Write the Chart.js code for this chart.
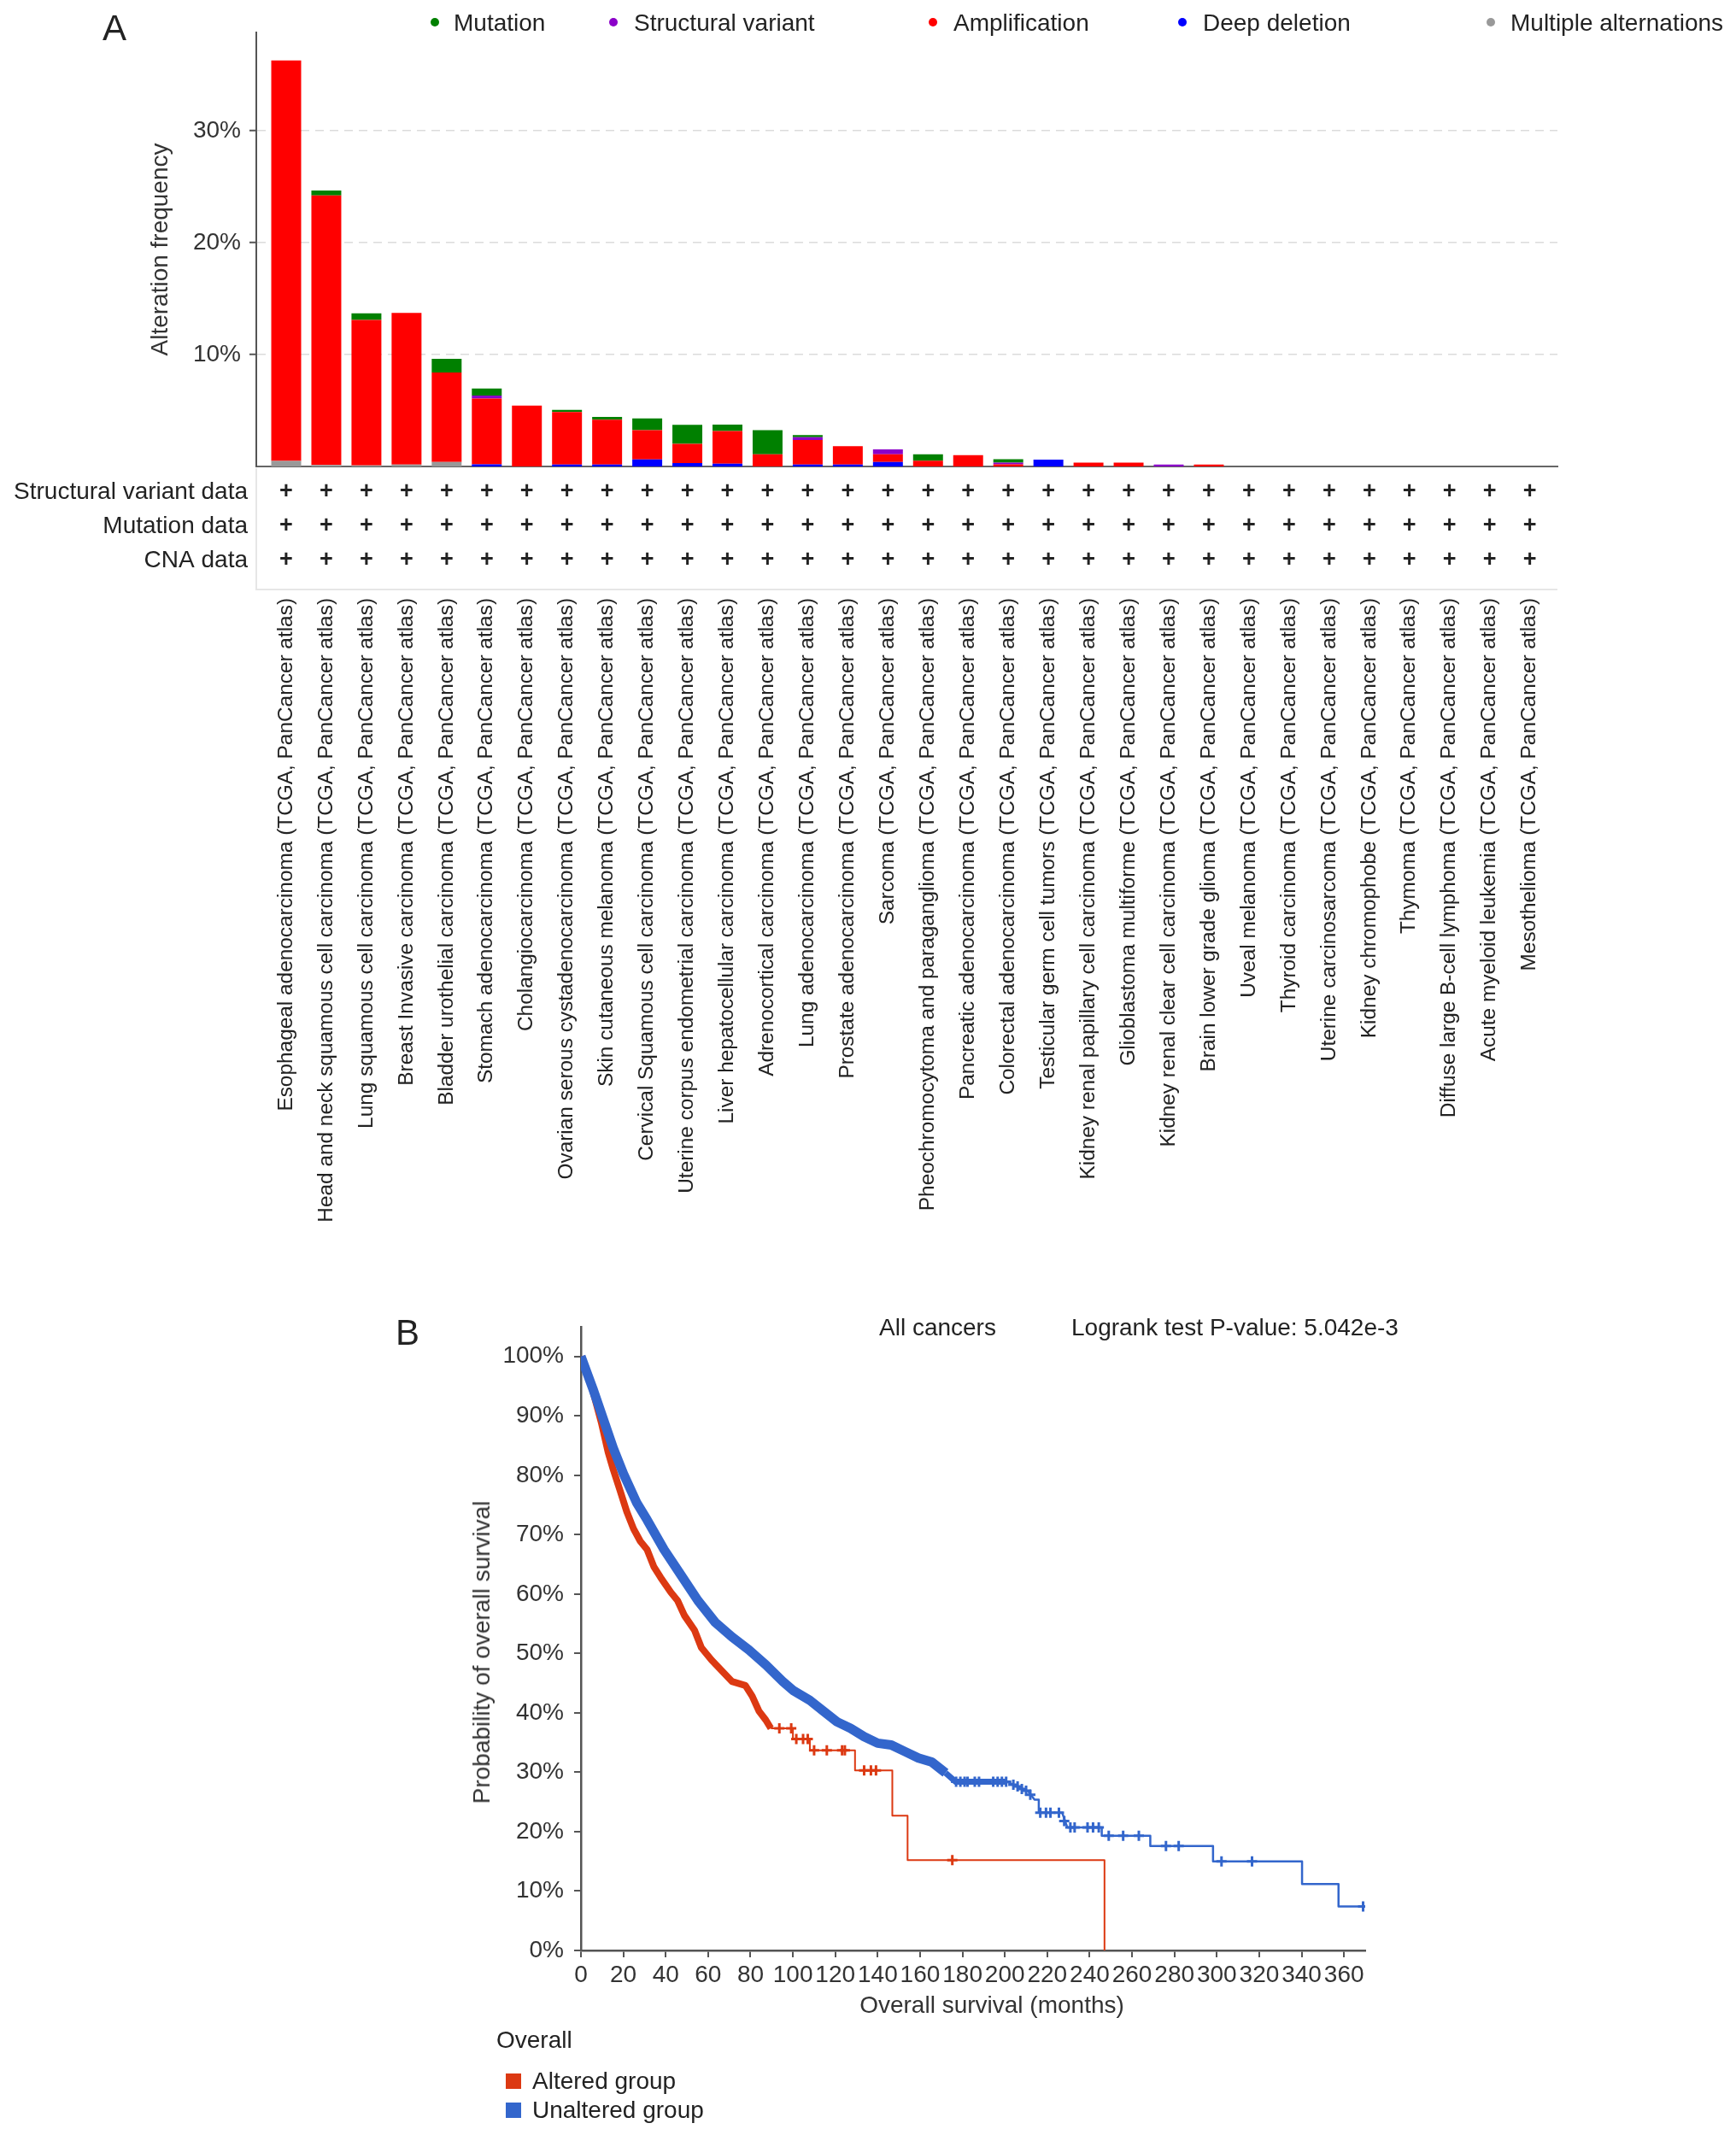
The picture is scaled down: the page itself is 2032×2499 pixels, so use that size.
<!DOCTYPE html>
<html>
<head>
<meta charset="utf-8">
<script src="https://cdn.jsdelivr.net/npm/chart.js@4.4.1/dist/chart.umd.min.js"></script>
<style>
html,body{margin:0;padding:0;background:#fff;}
#page{position:relative;width:2032px;height:2499px;overflow:hidden;font-family:'Liberation Sans',Arial,Helvetica,sans-serif;color:#222;}
canvas{position:absolute;left:0;}
.t{position:absolute;white-space:nowrap;line-height:1;}
.dot{position:absolute;border-radius:50%;}
.sq{position:absolute;}
</style>
</head>
<body>
<div id="page">
<canvas id="chartA" width="2032" height="1470" style="top:0px"></canvas>
<canvas id="chartB" width="2032" height="1019" style="top:1480px"></canvas>
</div>
<script>
// ---------------- Panel A data ----------------
const categories = [
  'Esophageal adenocarcinoma (TCGA, PanCancer atlas)',
  'Head and neck squamous cell carcinoma (TCGA, PanCancer atlas)',
  'Lung squamous cell carcinoma (TCGA, PanCancer atlas)',
  'Breast Invasive carcinoma (TCGA, PanCancer atlas)',
  'Bladder urothelial carcinoma (TCGA, PanCancer atlas)',
  'Stomach adenocarcinoma (TCGA, PanCancer atlas)',
  'Cholangiocarcinoma (TCGA, PanCancer atlas)',
  'Ovarian serous cystadenocarcinoma (TCGA, PanCancer atlas)',
  'Skin cutaneous melanoma (TCGA, PanCancer atlas)',
  'Cervical Squamous cell carcinoma (TCGA, PanCancer atlas)',
  'Uterine corpus endometrial carcinoma (TCGA, PanCancer atlas)',
  'Liver hepatocellular carcinoma (TCGA, PanCancer atlas)',
  'Adrenocortical carcinoma (TCGA, PanCancer atlas)',
  'Lung adenocarcinoma (TCGA, PanCancer atlas)',
  'Prostate adenocarcinoma (TCGA, PanCancer atlas)',
  'Sarcoma (TCGA, PanCancer atlas)',
  'Pheochromocytoma and paraganglioma (TCGA, PanCancer atlas)',
  'Pancreatic adenocarcinoma (TCGA, PanCancer atlas)',
  'Colorectal adenocarcinoma (TCGA, PanCancer atlas)',
  'Testicular germ cell tumors (TCGA, PanCancer atlas)',
  'Kidney renal papillary cell carcinoma (TCGA, PanCancer atlas)',
  'Glioblastoma multiforme (TCGA, PanCancer atlas)',
  'Kidney renal clear cell carcinoma (TCGA, PanCancer atlas)',
  'Brain lower grade glioma (TCGA, PanCancer atlas)',
  'Uveal melanoma (TCGA, PanCancer atlas)',
  'Thyroid carcinoma (TCGA, PanCancer atlas)',
  'Uterine carcinosarcoma (TCGA, PanCancer atlas)',
  'Kidney chromophobe (TCGA, PanCancer atlas)',
  'Thymoma (TCGA, PanCancer atlas)',
  'Diffuse large B-cell lymphoma (TCGA, PanCancer atlas)',
  'Acute myeloid leukemia (TCGA, PanCancer atlas)',
  'Mesothelioma (TCGA, PanCancer atlas)'
];
const mutation            = [0, 0.44, 0.6, 0, 1.22, 0.63, 0, 0.2, 0.25, 1.06, 1.7, 0.58, 2.15, 0.2, 0, 0, 0.58, 0, 0.3, 0, 0, 0, 0, 0, 0, 0, 0, 0, 0, 0, 0, 0];
const structuralVariant   = [0, 0, 0, 0, 0, 0.25, 0, 0, 0, 0, 0, 0, 0, 0.24, 0, 0.44, 0, 0, 0.15, 0, 0, 0, 0.17, 0, 0, 0, 0, 0, 0, 0, 0, 0];
const amplification       = [35.8, 24.1, 13.0, 13.55, 8.0, 5.88, 5.44, 4.68, 4.0, 2.61, 1.72, 2.93, 1.09, 2.2, 1.64, 0.68, 0.51, 1.02, 0.2, 0, 0.34, 0.34, 0, 0.17, 0, 0, 0, 0, 0, 0, 0, 0];
const deepDeletion        = [0, 0, 0, 0, 0, 0.2, 0, 0.18, 0.18, 0.63, 0.3, 0.24, 0, 0.17, 0.17, 0.41, 0, 0, 0, 0.61, 0, 0, 0, 0, 0, 0, 0, 0, 0, 0, 0, 0];
const multipleAlterations = [0.5, 0.13, 0.1, 0.18, 0.4, 0, 0, 0, 0, 0, 0, 0, 0, 0, 0, 0, 0, 0, 0, 0, 0, 0, 0, 0, 0, 0, 0, 0, 0, 0, 0, 0];
const freqTicks = [10, 20, 30];
const profileRows = ['Structural variant data', 'Mutation data', 'CNA data'];
const svProfiled  = [1,1,1,1,1,1,1,1,1,1,1,1,1,1,1,1,1,1,1,1,1,1,1,1,1,1,1,1,1,1,1,1];
const mutProfiled = [1,1,1,1,1,1,1,1,1,1,1,1,1,1,1,1,1,1,1,1,1,1,1,1,1,1,1,1,1,1,1,1];
const cnaProfiled = [1,1,1,1,1,1,1,1,1,1,1,1,1,1,1,1,1,1,1,1,1,1,1,1,1,1,1,1,1,1,1,1];
const legendNames = ['Mutation', 'Structural variant', 'Amplification', 'Deep deletion', 'Multiple alternations'];

// ---------------- Panel B data ----------------
const unalteredMonths   = [0, 5.6, 10.4, 15.2, 20, 26.4, 31.2, 39.2, 47.2, 55.2, 63.2, 71.2, 79.2, 87.2, 95.2, 100, 108, 114.4, 120.8, 127.2, 133.6, 140, 146.4, 152.8, 159.2, 165.6, 172, 176.8, 201, 207, 211, 214, 216, 216, 227, 229.5, 245.7, 245.7, 268.6, 268.6, 298.2, 298.2, 340.2, 340.2, 357.4, 357.4, 369];
const unalteredSurvival = [100, 94.6, 89.6, 84.6, 80.3, 75.3, 72.5, 67.5, 63.2, 58.9, 55.3, 52.8, 50.6, 48.1, 45.3, 43.8, 42.1, 40.3, 38.5, 37.4, 36.0, 34.9, 34.6, 33.5, 32.4, 31.7, 29.9, 28.4, 28.4, 27.4, 26.8, 25.4, 25.4, 23.2, 23.2, 20.7, 20.7, 19.3, 19.3, 17.6, 17.6, 15.0, 15.0, 11.2, 11.2, 7.4, 7.4];
const alteredMonths     = [0, 5, 9.6, 12.8, 15.2, 18.4, 21.6, 24.8, 28, 31.2, 34.4, 37.6, 42.4, 45.6, 48.8, 53.6, 56.8, 61.6, 66.4, 71.2, 77.6, 80.8, 84, 87.2, 89.6, 100, 100, 108, 108, 129.3, 129.3, 146.9, 146.9, 154.1, 154.1, 247, 247];
const alteredSurvival   = [100, 95, 88.9, 83.9, 81.0, 77.5, 73.9, 71.0, 68.9, 67.5, 64.6, 62.8, 60.3, 58.9, 56.4, 53.9, 51.0, 48.9, 47.1, 45.3, 44.6, 42.8, 40.3, 38.8, 37.4, 37.4, 35.6, 35.6, 33.7, 33.7, 30.3, 30.3, 22.7, 22.7, 15.2, 15.2, 0];
const unalteredCensorMonths   = [177, 179, 181, 182.4, 185.8, 187.8, 194.5, 196.6, 198.6, 200.6, 204, 206, 208, 210, 212, 216.7, 219.4, 221.5, 225.5, 228, 230.9, 232.9, 239, 241.6, 244.3, 249, 255.8, 263.2, 276, 282, 302.2, 316.6, 369];
const unalteredCensorSurvival = [28.4, 28.4, 28.4, 28.4, 28.4, 28.4, 28.4, 28.4, 28.4, 28.4, 27.9, 27.6, 27.2, 26.9, 26.2, 23.2, 23.2, 23.2, 23.2, 21.8, 20.7, 20.7, 20.7, 20.7, 20.7, 19.3, 19.3, 19.3, 17.6, 17.6, 15.0, 15.0, 7.4];
const alteredCensorMonths     = [93.6, 99.2, 101.6, 104.8, 107, 110, 116, 123.2, 124.5, 133.6, 136.8, 139.2, 175.2];
const alteredCensorSurvival   = [37.4, 37.4, 35.6, 35.6, 35.6, 33.7, 33.7, 33.7, 33.7, 30.3, 30.3, 30.3, 15.2];
const survivalTicksX = [0, 20, 40, 60, 80, 100, 120, 140, 160, 180, 200, 220, 240, 260, 280, 300, 320, 340, 360];
const survivalTicksY = [0, 10, 20, 30, 40, 50, 60, 70, 80, 90, 100];
const groupNames = ['Altered group', 'Unaltered group'];

// ---------------- styles ----------------
const FONT = "'Liberation Sans', Arial, Helvetica, sans-serif";
const C_MUT = '#008000', C_SV = '#8b00c9', C_AMP = '#ff0000', C_DEL = '#0000ff', C_MULTI = '#999999';
const legendColors = [C_MUT, C_SV, C_AMP, C_DEL, C_MULTI];
const RED = '#dc3912', BLUE = '#3366cc';
Chart.defaults.font.family = FONT;
Chart.defaults.color = '#222';

const page = document.getElementById('page');
function addText(txt, x, y, size, extra) {
  const d = document.createElement('div');
  d.className = 't';
  d.textContent = txt;
  d.style.left = x + 'px';
  d.style.top = y + 'px';
  d.style.fontSize = size + 'px';
  d.style.transform = 'translateY(-50%)';
  if (extra) Object.assign(d.style, extra);
  page.appendChild(d);
  return d;
}

// ---------------- Panel A ----------------
const profileFlags = [svProfiled, mutProfiled, cnaProfiled];
const rowOffsets = [30, 70, 110];
const profilePlugin = {
  id: 'profileRows',
  afterDraw(chart) {
    const {ctx, chartArea} = chart;
    const xs = chart.scales.x;
    ctx.save();
    ctx.strokeStyle = '#e6e6e6';
    ctx.lineWidth = 2;
    ctx.beginPath();
    ctx.moveTo(chartArea.left, chartArea.bottom + 2);
    ctx.lineTo(chartArea.left, chartArea.bottom + 144);
    ctx.lineTo(chartArea.right, chartArea.bottom + 144);
    ctx.stroke();
    ctx.fillStyle = '#222';
    ctx.textBaseline = 'middle';
    profileRows.forEach((label, r) => {
      const y = chartArea.bottom + rowOffsets[r];
      ctx.font = '28px ' + FONT;
      ctx.textAlign = 'right';
      ctx.fillText(label, chartArea.left - 10, y);
      ctx.font = 'bold 27px ' + FONT;
      ctx.textAlign = 'center';
      profileFlags[r].forEach((f, i) => {
        if (f) ctx.fillText('+', xs.getPixelForValue(i), y);
      });
    });
    ctx.restore();
  }
};
const pts = (vals) => vals.map((v, i) => ({x: i, y: v}));

new Chart(document.getElementById('chartA'), {
  type: 'bar',
  data: {
    datasets: [
      {label: 'Multiple alternations', data: pts(multipleAlterations), backgroundColor: C_MULTI},
      {label: 'Deep deletion', data: pts(deepDeletion), backgroundColor: C_DEL},
      {label: 'Amplification', data: pts(amplification), backgroundColor: C_AMP},
      {label: 'Structural variant', data: pts(structuralVariant), backgroundColor: C_SV},
      {label: 'Mutation', data: pts(mutation), backgroundColor: C_MUT}
    ]
  },
  options: {
    responsive: false, animation: false, devicePixelRatio: 1,
    layout: {padding: {top: 38, right: 209, bottom: 0, left: 0}},
    datasets: {bar: {barPercentage: 0.745, categoryPercentage: 1, borderWidth: 0}},
    plugins: {legend: {display: false}, tooltip: {enabled: false}},
    scales: {
      x: {
        type: 'linear', stacked: true, offset: false,
        min: -0.7455, max: 31.69,
        afterBuildTicks(s) { s.ticks = categories.map((c, i) => ({value: i})); },
        grid: {display: false, drawTicks: false, offset: false},
        border: {display: true, color: '#666', width: 2},
        ticks: {autoSkip: false, minRotation: 90, maxRotation: 90, padding: 154, font: {size: 24.4}, color: '#222',
                callback: (v) => categories[v]},
        afterFit(s) { s.height = 924; }
      },
      y: {
        stacked: true, min: 0, max: 38.8,
        afterBuildTicks(s) { s.ticks = freqTicks.map(v => ({value: v})); },
        grid: {color: '#dcdcdc', lineWidth: 1.5, tickColor: '#555', tickLength: 8, tickWidth: 2},
        border: {color: '#555', width: 2, dash: [10, 7]},
        ticks: {padding: 10, font: {size: 28}, color: '#333', callback: (v) => v + '%'},
        title: {display: true, text: 'Alteration frequency', font: {size: 28}, color: '#333', padding: {top: 171, bottom: 0}},
        afterFit(s) { s.width = 300; }
      }
    }
  },
  plugins: [profilePlugin]
});

// Panel A annotations
addText('A', 120, 33, 42);
const legendDotX = [509, 718, 1092, 1384, 1745];
const legendTextX = [531, 742, 1116, 1408, 1768];
legendNames.forEach((n, i) => {
  const d = document.createElement('div');
  d.className = 'dot';
  Object.assign(d.style, {left: (legendDotX[i] - 5) + 'px', top: '21px', width: '10px', height: '10px', background: legendColors[i]});
  page.appendChild(d);
  addText(n, legendTextX[i], 27, 28);
});

// ---------------- Panel B ----------------
const xy = (xs, ys) => xs.map((x, i) => ({x: x, y: ys[i]}));
new Chart(document.getElementById('chartB'), {
  type: 'line',
  data: {
    datasets: [
      {label: 'Unaltered group', data: xy(unalteredMonths, unalteredSurvival), borderColor: BLUE, pointRadius: 0, tension: 0,
       borderJoinStyle: 'round', borderWidth: 2.5,
       segment: {borderWidth: c => c.p0.parsed.x < 172 ? 11 : (c.p0.parsed.x < 177 ? 7 : 2.5)}},
      {label: 'Unaltered censored', data: xy(unalteredCensorMonths, unalteredCensorSurvival), showLine: false,
       pointStyle: 'cross', pointRadius: 6, pointBorderWidth: 3, pointBorderColor: BLUE, borderColor: BLUE, backgroundColor: BLUE},
      {label: 'Altered group', data: xy(alteredMonths, alteredSurvival), borderColor: RED, pointRadius: 0, tension: 0,
       borderJoinStyle: 'round', borderWidth: 2,
       segment: {borderWidth: c => c.p0.parsed.x < 89.6 ? 8 : 2}},
      {label: 'Altered censored', data: xy(alteredCensorMonths, alteredCensorSurvival), showLine: false,
       pointStyle: 'cross', pointRadius: 6, pointBorderWidth: 3, pointBorderColor: RED, borderColor: RED, backgroundColor: RED}
    ]
  },
  options: {
    responsive: false, animation: false, devicePixelRatio: 1,
    layout: {padding: {top: 73, right: 434, bottom: 0, left: 0}},
    plugins: {legend: {display: false}, tooltip: {enabled: false}},
    scales: {
      x: {
        type: 'linear', min: 0, max: 370,
        afterBuildTicks(s) { s.ticks = survivalTicksX.map(v => ({value: v})); },
        grid: {drawOnChartArea: false, color: '#555', tickLength: 8, lineWidth: 2},
        border: {color: '#555', width: 2.5},
        ticks: {padding: 4, font: {size: 28}, color: '#333', autoSkip: false, maxRotation: 0, minRotation: 0},
        afterFit(s) { s.height = 216; }
      },
      y: {
        min: 0, max: 105,
        afterBuildTicks(s) { s.ticks = survivalTicksY.map(v => ({value: v})); },
        grid: {drawOnChartArea: false, color: '#555', tickLength: 8, lineWidth: 2},
        border: {color: '#555', width: 2.5},
        ticks: {padding: 12, font: {size: 28}, color: '#333', callback: (v) => v + '%'},
        afterFit(s) { s.width = 680; }
      }
    }
  }
});

// Panel B annotations
addText('B', 463, 1560, 42);
addText('All cancers', 1029, 1554, 28);
addText('Logrank test P-value: 5.042e-3', 1254, 1554, 28);
addText('Probability of overall survival', 564, 1934, 28, {transform: 'translate(-50%,-50%) rotate(-90deg)', color: '#333'});
addText('Overall survival (months)', 1161, 2347, 28, {transform: 'translate(-50%,-50%)', color: '#333'});
addText('Overall', 581, 2388, 28);
const groupColors = [RED, BLUE];
const groupY = [2436, 2470];
groupNames.forEach((g, i) => {
  const s = document.createElement('div');
  s.className = 'sq';
  Object.assign(s.style, {left: '592px', top: (groupY[i] - 9) + 'px', width: '18px', height: '18px', background: groupColors[i]});
  page.appendChild(s);
  addText(g, 623, groupY[i], 28);
});
</script>
</body>
</html>
